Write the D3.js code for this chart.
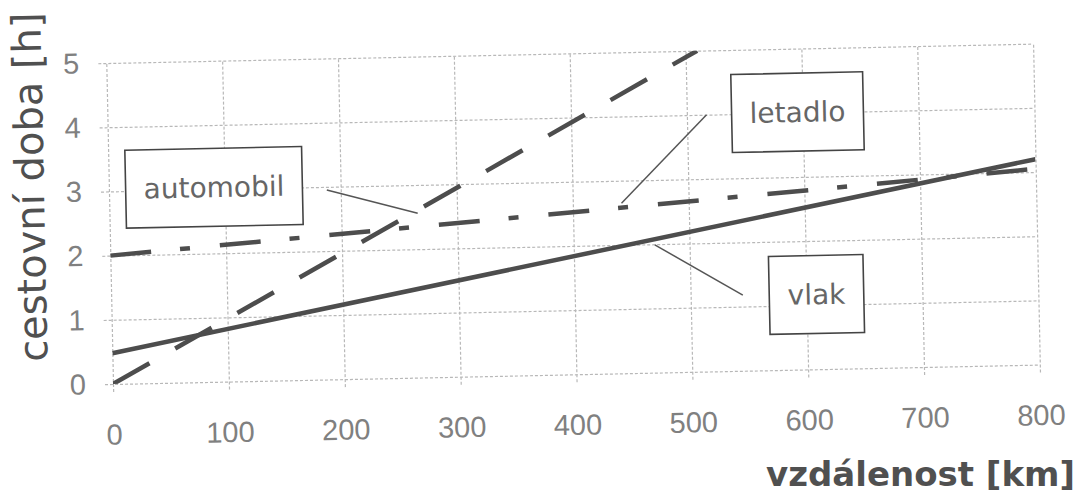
<!DOCTYPE html>
<html>
<head>
<meta charset="utf-8">
<script src="https://cdn.jsdelivr.net/npm/d3@7"></script>
<style>
  body { margin: 0; background: #fff; }
  .chart text { font-family: "DejaVu Sans", sans-serif; }
</style>
</head>
<body>
<div class="chart"></div>
<script>
// axis ticks
var xTicks = [0, 100, 200, 300, 400, 500, 600, 700, 800];
var yTicks = [0, 1, 2, 3, 4, 5];

// travel time [h] vs distance [km]
var automobil = [[0, 0], [510, 5]];
var letadlo = [[0, 2.0], [800, 3.05]];
var vlak = [[0, 0.48], [800, 3.2]];

// callouts (data units)
var labelNames = ["automobil", "letadlo", "vlak"];
var labelCenters = [[90.7, 3.03], [595.5, 4.01], [608.6, 1.165]];
var calloutFrom = [[188, 2.95], [517, 4.0], [470, 1.99]];
var calloutTo = [[266, 2.56], [442, 2.65], [545, 1.18]];

function travelChart() {

    var W = 1079, H = 495;
    var margin = {top: 63, right: 39, bottom: 111, left: 113};
    var width = W - margin.left - margin.right;
    var height = H - margin.top - margin.bottom;

    var lineColor = "#4d4d4d";
    var gridColor = "#b8b8b8";

    var svg = d3.select(".chart").append("svg")
        .attr("width", W)
        .attr("height", H);

    // the scanned original is tilted a little
    var g = svg.append("g")
        .attr("transform", "rotate(-1.2," + margin.left + "," + (margin.top + height) + ") translate(" + margin.left + "," + margin.top + ")");

    var x = d3.scaleLinear().domain([0, 800]).range([0, width]);
    var y = d3.scaleLinear().domain([0, 5]).range([height, 0]);

    // x axis + vertical grid
    var xAxis = g.append("g")
        .attr("transform", "translate(0," + height + ")")
        .call(d3.axisBottom(x).tickValues(xTicks).tickFormat(d3.format("d"))
            .tickSizeInner(-height).tickSizeOuter(0).tickPadding(40));
    xAxis.select(".domain").remove();
    xAxis.selectAll(".tick line")
        .attr("y1", 8)
        .attr("stroke", gridColor)
        .attr("stroke-width", 1.2)
        .attr("stroke-dasharray", "3,2");
    xAxis.selectAll(".tick text")
        .attr("fill", "#808080")
        .style("font-family", "'Liberation Sans', Arial, sans-serif")
        .style("font-size", "29px");

    // y axis + horizontal grid
    var yAxis = g.append("g")
        .call(d3.axisLeft(y).tickValues(yTicks).tickFormat(d3.format("d"))
            .tickSizeInner(-width).tickSizeOuter(0).tickPadding(27));
    yAxis.select(".domain").remove();
    yAxis.selectAll(".tick line")
        .attr("x1", -8)
        .attr("stroke", gridColor)
        .attr("stroke-width", 1.2)
        .attr("stroke-dasharray", "3,2");
    yAxis.selectAll(".tick text")
        .attr("fill", "#808080")
        .style("font-family", "'Liberation Sans', Arial, sans-serif")
        .style("font-size", "29px");

    g.append("clipPath")
        .attr("id", "plotClip")
        .append("rect")
        .attr("width", width)
        .attr("height", height);

    var line = d3.line()
        .x(d => x(d[0]))
        .y(d => y(d[1]));

    var plot = g.append("g").attr("clip-path", "url(#plotClip)");

    // vlak - solid
    plot.append("path")
        .datum(vlak)
        .attr("d", line)
        .attr("fill", "none")
        .attr("stroke", lineColor)
        .attr("stroke-width", 4.5);

    // letadlo - dash dot
    plot.append("path")
        .datum(letadlo)
        .attr("d", line)
        .attr("fill", "none")
        .attr("stroke", lineColor)
        .attr("stroke-width", 4.5)
        .attr("stroke-dasharray", "41,29,10,30");

    // automobil - dashed
    plot.append("path")
        .datum(automobil)
        .attr("d", line)
        .attr("fill", "none")
        .attr("stroke", lineColor)
        .attr("stroke-width", 4.5)
        .attr("stroke-dasharray", "42,29.6");

    // callout lines
    labelNames.forEach(function(name, i) {
        g.append("line")
            .attr("x1", x(calloutFrom[i][0]))
            .attr("y1", y(calloutFrom[i][1]))
            .attr("x2", x(calloutTo[i][0]))
            .attr("y2", y(calloutTo[i][1]))
            .attr("stroke", "#555")
            .attr("stroke-width", 1.5);
    });

    // label boxes
    labelNames.forEach(function(name, i) {
        var cx = x(labelCenters[i][0]);
        var cy = y(labelCenters[i][1]);
        var box = g.append("g");
        var rect = box.append("rect");
        var t = box.append("text")
            .attr("x", cx)
            .attr("y", cy)
            .attr("dy", "0.35em")
            .attr("text-anchor", "middle")
            .attr("fill", "#666")
            .style("font-size", "28px")
            .text(name);
        var bb = t.node().getBBox();
        var bw = bb.width + 36;
        var bh = 78;
        rect.attr("x", cx - bw / 2)
            .attr("y", cy - bh / 2)
            .attr("width", bw)
            .attr("height", bh)
            .attr("fill", "#fff")
            .attr("stroke", "#444")
            .attr("stroke-width", 1.6);
    });

    // axis titles
    g.append("text")
        .attr("transform", "translate(-65," + (height / 2 - 38) + ") rotate(-90)")
        .attr("text-anchor", "middle")
        .attr("fill", "#505050")
        .style("font-size", "40px")
        .text("cestovní doba [h]");

    svg.append("text")
        .attr("x", W - 4)
        .attr("y", H - 9)
        .attr("text-anchor", "end")
        .attr("fill", "#505050")
        .style("font-size", "34px")
        .style("font-weight", "bold")
        .text("vzdálenost [km]");
}

travelChart();
</script>
</body>
</html>
